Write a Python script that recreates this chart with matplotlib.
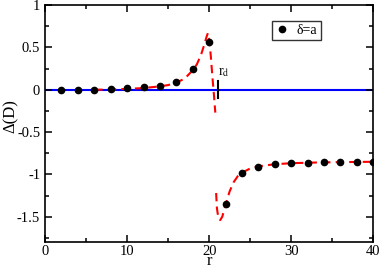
import matplotlib
matplotlib.use("Agg")
import matplotlib.pyplot as plt
from matplotlib.ticker import MultipleLocator

plt.rcParams['font.family'] = ['Liberation Serif', 'DejaVu Serif']
plt.rcParams['mathtext.fontset'] = 'stix'

# data points (delta = a)
r_pts = [2, 4, 6, 8, 10, 12, 14, 16, 18, 20,
         22, 24, 26, 28, 30, 32, 34, 36, 38, 40]
d_pts = [0.0, 0.0, 0.0, 0.005, 0.015, 0.027, 0.043, 0.094, 0.25, 0.57,
         -1.353, -0.988, -0.91, -0.878, -0.867, -0.861, -0.859, -0.856, -0.854, -0.853]

# dashed fit curve, left branch
r_left = [6, 8, 10, 12, 14, 15, 16, 17, 18, 18.5, 19, 19.4, 19.7, 19.85,
          20.0, 20.2, 20.4, 20.6, 20.75]
d_left = [0.0, 0.003, 0.01, 0.02, 0.04, 0.055, 0.085, 0.13, 0.23, 0.30, 0.41,
          0.53, 0.63, 0.67, 0.60, 0.40, 0.15, -0.08, -0.27]
# dashed fit curve, right branch
r_right = [20.85, 20.95, 21.1, 21.35, 21.6, 22.0, 22.5, 23.0, 23.5, 24.0,
           25.0, 26.0, 28.0, 30.0, 32.0, 34.0, 36.0, 38.0, 40.0]
d_right = [-1.22, -1.40, -1.50, -1.54, -1.50, -1.36, -1.20, -1.09, -1.02, -0.98,
           -0.93, -0.905, -0.88, -0.868, -0.862, -0.858, -0.855, -0.853, -0.851]

r_d = 21.1

fig = plt.figure(figsize=(3.82, 2.69), dpi=100)
ax = fig.add_axes([0.118, 0.100, 0.859, 0.881])

ax.axhline(0, color='#0000ff', lw=1.5, zorder=1)
ax.plot(r_left, d_left, color='#ff0000', lw=1.5, dashes=(4, 2.5), zorder=2)
ax.plot(r_right, d_right, color='#ff0000', lw=1.5, dashes=(4, 2.5), zorder=2)
ax.plot(r_pts, d_pts, 'o', color='black', ms=4.5, ls='none', zorder=3, label='δ=a')

ax.plot([r_d, r_d], [0.105, -0.1], color='black', lw=1.5, zorder=4)
ax.text(r_d, 0.13, r'r$_{\rm d}$', fontsize=10, ha='left', va='bottom')

ax.set_xlim(0, 40)
ax.set_ylim(-1.8, 1)
ax.xaxis.set_major_locator(MultipleLocator(10))
ax.xaxis.set_minor_locator(MultipleLocator(5))
ax.yaxis.set_major_locator(MultipleLocator(0.5))
ax.yaxis.set_minor_locator(MultipleLocator(0.25))
ax.set_yticks([-1.5, -1, -0.5, 0, 0.5, 1])
ax.set_yticklabels(['-1.5', '-1', '-0.5', '0', '0.5', '1'])
ax.tick_params(which='both', direction='in', top=True, right=True, labelsize=10.5, width=1.1)
ax.tick_params(which='major', length=5)
ax.tick_params(axis='x', which='major', pad=2)
ax.tick_params(which='minor', length=3)
for s in ax.spines.values():
    s.set_linewidth(1.2)

ax.set_xlabel('r', fontsize=12, va='bottom')
ax.xaxis.set_label_coords(0.5, -0.1125)
ax.set_ylabel('Δ(D)', fontsize=12, va='center')
ax.yaxis.set_label_coords(-0.105, 0.53)

leg = ax.legend(loc='upper right', bbox_to_anchor=(0.84, 0.935), fontsize=10,
                frameon=True, fancybox=False, edgecolor='black', handlelength=0.9,
                handletextpad=0.6, borderpad=0.25, borderaxespad=0)
leg.get_frame().set_linewidth(1.0)

fig.savefig('out.png', dpi=100)
